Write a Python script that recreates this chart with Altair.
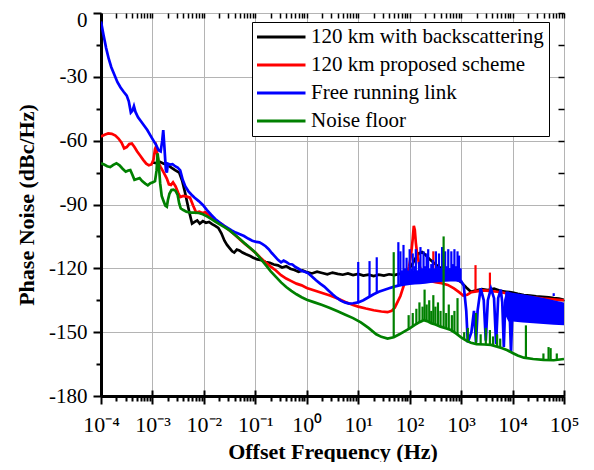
import altair as alt
import pandas as pd

FONT = "Liberation Serif, Times New Roman, serif"
SERIES = ["120 km with backscattering", "120 km proposed scheme", "Free running link", "Noise floor"]
COLORS = ["#000000", "#ff0000", "#0000ff", "#008000"]

# x values are log10(offset frequency / Hz); y values are phase noise in dBc/Hz
black_lx = [-3.00, -2.92, -2.85, -2.78, -2.72, -2.64, -2.56, -2.48, -2.42, -2.37, -2.33, -2.28, -2.23, -2.18, -2.13,
            -2.08, -2.02, -1.96, -1.90, -1.84, -1.78, -1.72, -1.66, -1.60, -1.55, -1.50, -1.45, -1.41, -1.36, -1.31,
            -1.25, -1.18, -1.10, -1.04, -0.96, -0.88, -0.80, -0.72, -0.64, -0.56, -0.48, -0.40, -0.32, -0.24, -0.16,
            -0.08, 0.00, 0.10, 0.20, 0.30, 0.40, 0.50, 0.60, 0.70, 0.80, 0.90, 1.00, 1.10, 1.20, 1.30, 1.40, 1.50,
            1.60, 1.70, 1.80, 1.88, 1.96, 2.04, 2.12, 2.18, 2.24, 2.30, 2.40, 2.55, 2.70, 2.85, 3.00, 3.10, 3.19,
            3.28, 3.40, 3.52, 3.64, 3.76, 3.88, 4.00, 4.10, 4.22, 4.34, 4.46, 4.58, 4.70, 4.80, 4.90, 5.00]
black_db = [-70.2, -70.6, -70.0, -70.8, -71.2, -72.5, -73.8, -75.0, -79.0, -84.0, -88.5, -94.0, -99.0, -98.2, -97.5,
            -99.0, -97.8, -98.6, -98.2, -99.2, -100.0, -101.0, -103.5, -107.0, -109.0, -110.5, -112.0, -112.6, -111.2, -111.6,
            -112.6, -113.4, -114.2, -115.0, -115.8, -116.2, -117.0, -117.4, -118.2, -118.6, -119.6, -119.0, -120.2, -120.8, -121.6,
            -121.0, -121.8, -122.4, -121.6, -122.2, -122.8, -122.0, -122.6, -123.0, -122.4, -123.2, -122.6, -123.4, -123.0, -123.6, -123.0, -123.4,
            -122.8, -123.2, -122.6, -122.0, -121.0, -118.5, -115.0, -113.0, -112.4, -113.5, -116.0, -119.0, -121.5, -124.0, -126.5, -129.0, -131.0,
            -130.4, -129.8, -130.2, -129.6, -130.6, -131.0, -131.4, -132.0, -132.6, -132.8, -133.2, -133.4, -133.6, -134.0, -134.2, -134.8]

red_lx = [-4.00, -3.93, -3.86, -3.79, -3.72, -3.66, -3.60, -3.55, -3.50, -3.45, -3.40, -3.35, -3.30, -3.24, -3.18,
          -3.12, -3.07, -3.02, -2.98, -2.95, -2.93, -2.91, -2.88, -2.84, -2.78, -2.72, -2.68, -2.64, -2.60, -2.55,
          -2.50, -2.46, -2.40, -2.33, -2.27, -2.21, -2.15, -2.09, -2.03, -1.97, -1.91, -1.85, -1.78, -1.72, -1.64,
          -1.56, -1.48, -1.40, -1.30, -1.20, -1.10, -1.00, -0.90, -0.80, -0.70, -0.60, -0.50, -0.40, -0.30, -0.20,
          -0.10, 0.00, 0.15, 0.30, 0.45, 0.60, 0.75, 0.90, 1.00, 1.15, 1.30, 1.45, 1.57, 1.65, 1.71, 1.76, 1.82,
          1.88, 1.94, 1.99, 2.03, 2.06, 2.08, 2.10, 2.12, 2.15, 2.20, 2.28, 2.38, 2.50, 2.62, 2.74, 2.86, 2.96,
          3.04, 3.12, 3.20, 3.30, 3.42, 3.55, 3.70, 3.85, 4.00, 4.30, 4.60, 5.00]
red_db = [-58.0, -57.2, -56.6, -56.8, -57.6, -59.0, -61.0, -63.6, -63.0, -61.6, -61.3, -63.0, -65.0, -67.0, -69.0,
          -70.8, -71.6, -71.2, -69.0, -64.0, -62.8, -66.0, -70.5, -72.4, -75.0, -77.8, -80.5, -80.8, -79.6, -81.5,
          -84.5, -86.5, -86.0, -86.3, -86.8, -90.5, -93.8, -93.4, -94.0, -93.6, -95.0, -96.2, -97.4, -98.2, -99.4,
          -101.0, -102.6, -104.2, -106.4, -108.6, -110.6, -112.6, -115.0, -117.2, -119.2, -121.0, -123.2, -124.8, -126.0, -127.2,
          -128.0, -129.2, -130.4, -131.6, -132.8, -134.2, -135.8, -137.2, -138.0, -138.9, -139.7, -140.3, -140.6, -140.0, -138.5, -136.0, -133.0,
          -128.5, -124.0, -119.0, -113.0, -106.0, -100.0, -102.0, -108.0, -114.0, -119.5, -124.0, -125.8, -126.5, -127.0, -127.8, -129.4, -131.2,
          -132.8, -132.4, -131.2, -130.8, -130.4, -130.6, -131.0, -131.6, -132.4, -133.4, -134.2, -135.0]
red_spike_lx = [2.46, 3.28, 3.56]
red_spike_base = [-126.2, -130.8, -130.6]
red_spike_top = [-112.0, -118.5, -122.0]

blue_lx = [-4.00, -3.95, -3.90, -3.85, -3.80, -3.74, -3.68, -3.62, -3.56, -3.50, -3.46, -3.42, -3.39, -3.36, -3.33,
           -3.28, -3.22, -3.16, -3.10, -3.04, -2.98, -2.93, -2.88, -2.84, -2.81, -2.79, -2.77, -2.74, -2.72, -2.70,
           -2.66, -2.61, -2.56, -2.51, -2.46, -2.41, -2.36, -2.30, -2.24, -2.18, -2.10, -2.02, -1.94, -1.86, -1.78,
           -1.70, -1.62, -1.54, -1.46, -1.38, -1.30, -1.22, -1.14, -1.06, -0.98, -0.92, -0.86, -0.80, -0.74, -0.68,
           -0.62, -0.56, -0.50, -0.45, -0.40, -0.34, -0.28, -0.22, -0.16, -0.10, -0.04, 0.02, 0.10, 0.18, 0.26,
           0.34, 0.42, 0.50, 0.58, 0.66, 0.74, 0.82, 0.90, 1.00, 1.10, 1.20, 1.30, 1.40, 1.50, 1.60, 1.70, 1.80,
           1.90, 2.00, 2.10, 2.20, 2.30, 2.40, 2.50, 2.60, 2.70, 2.80, 2.90, 3.00, 3.05, 3.10, 3.13, 3.20, 3.25,
           3.29, 3.32, 3.38, 3.44, 3.48, 3.52, 3.58, 3.64, 3.68, 3.72, 3.77, 3.80, 3.83, 3.86, 3.90, 3.94, 3.97,
           4.00, 4.50, 5.00]
blue_db = [-4.0, -10.5, -16.5, -21.5, -25.5, -29.0, -32.5, -35.0, -37.0, -38.8, -41.5, -46.8, -46.0, -43.8, -46.5,
           -49.0, -51.0, -53.0, -55.0, -57.5, -60.0, -62.0, -64.5, -65.0, -60.0, -55.0, -62.0, -73.5, -75.0, -70.8,
           -71.2, -71.0, -72.0, -72.6, -74.0, -78.5, -81.5, -83.8, -85.4, -86.8, -88.4, -90.2, -92.6, -94.8, -96.8,
           -98.4, -99.8, -101.0, -102.2, -103.2, -104.0, -104.8, -106.0, -107.0, -107.6, -107.8, -108.6, -109.6, -111.0, -112.8,
           -114.4, -116.0, -117.2, -116.4, -117.0, -118.0, -118.2, -119.4, -120.2, -121.2, -121.6, -122.2, -123.8, -125.6, -127.2,
           -128.6, -130.4, -132.2, -133.8, -135.2, -136.0, -136.6, -136.4, -136.0, -135.0, -133.6, -132.2, -131.0, -130.2, -129.4, -128.6, -128.0,
           -127.6, -127.2, -127.0, -126.8, -126.6, -126.3, -126.0, -125.8, -125.7, -125.6, -125.6, -126.0, -128.0, -140.0, -154.8, -150.0, -140.0,
           -154.8, -140.0, -129.4, -135.0, -154.0, -135.0, -129.5, -134.0, -155.5, -134.0, -130.0, -136.0, -157.0, -135.0, -131.0, -138.0, -159.6,
           -138.0, -139.0, -140.0]
blue_spike_lx = [1.00, 1.22, 1.36, 1.78, 1.82, 1.85, 1.88, 1.91, 1.94, 1.97, 2.00, 2.03, 2.06, 2.09, 2.12, 2.15, 2.18,
                 2.21, 2.24, 2.27, 2.30, 2.33, 2.36, 2.39, 2.42, 2.45, 2.48, 2.51, 2.54, 2.57, 2.60, 2.63, 2.66, 2.69,
                 2.72, 2.75, 2.78, 2.81, 2.84, 2.87, 2.90, 2.93, 2.96, 2.99, 4.80]
blue_spike_base = [-136.0, -133.4, -131.6, -128.1, -128.0, -128.0, -127.8, -127.6, -127.5, -127.4, -127.2, -127.2, -127.1,
                   -127.0, -127.0, -127.0, -126.9, -126.8, -126.8, -126.7, -126.6, -126.5, -126.5, -126.4, -126.3, -126.2,
                   -126.1, -126.0, -126.0, -125.9, -125.8, -125.8, -125.7, -125.7, -125.7, -125.6, -125.6, -125.6, -125.6,
                   -125.6, -125.6, -125.7, -125.8, -126.0, -133.0]
blue_spike_top = [-117.0, -116.6, -114.8, -107.7, -112.0, -121.0, -109.0, -120.0, -115.0, -121.0, -111.0, -120.0, -113.0,
                  -119.0, -111.0, -121.0, -117.0, -110.0, -120.0, -112.0, -119.0, -113.0, -111.0, -120.0, -118.0, -116.0,
                  -120.0, -112.0, -119.0, -113.0, -120.0, -110.0, -117.0, -112.0, -119.0, -111.0, -120.0, -112.0, -118.0,
                  -111.0, -119.0, -112.0, -114.0, -120.0, -131.7]
# dense comb between about 70 Hz and 1 kHz, seen as a filled blue strip
blue_comb_lx = [1.86, 2.00, 2.20, 2.40, 2.60, 2.80, 2.98]
blue_comb_top = [-122.0, -121.5, -121.0, -120.5, -120.0, -120.0, -121.0]
blue_comb_bot = [-127.9, -127.2, -126.8, -126.3, -125.8, -125.6, -126.0]
blue_band_lx = [3.86, 3.92, 4.00, 4.20, 4.40, 4.60, 4.80, 5.00]
blue_band_top = [-131.0, -131.0, -131.5, -132.2, -133.0, -134.0, -135.0, -136.0]
blue_band_bot = [-142.0, -145.0, -145.0, -145.4, -145.8, -146.2, -146.5, -146.8]

green_lx = [-4.00, -3.94, -3.88, -3.82, -3.76, -3.70, -3.64, -3.58, -3.52, -3.47, -3.43, -3.39, -3.35, -3.30, -3.25,
            -3.20, -3.14, -3.09, -3.04, -2.99, -2.95, -2.92, -2.90, -2.88, -2.85, -2.82, -2.79, -2.75, -2.72, -2.70,
            -2.67, -2.63, -2.59, -2.55, -2.51, -2.48, -2.45, -2.40, -2.34, -2.26, -2.18, -2.10, -2.02, -1.94, -1.86,
            -1.78, -1.70, -1.60, -1.50, -1.40, -1.30, -1.20, -1.10, -1.00, -0.90, -0.80, -0.70, -0.60, -0.50, -0.40,
            -0.30, -0.20, -0.10, 0.00, 0.15, 0.30, 0.45, 0.60, 0.75, 0.90, 1.05, 1.20, 1.35, 1.45, 1.57, 1.69, 1.80,
            1.90, 2.00, 2.10, 2.20, 2.27, 2.34, 2.42, 2.50, 2.60, 2.70, 2.80, 2.90, 3.00, 3.10, 3.19, 3.30, 3.45,
            3.58, 3.70, 3.80, 3.90, 4.00, 4.10, 4.22, 4.40, 4.60, 4.80, 5.00]
green_db = [-70.6, -71.2, -72.0, -72.4, -71.4, -70.6, -71.6, -73.2, -74.6, -74.0, -73.8, -76.0, -78.4, -78.0, -77.6,
            -79.0, -80.2, -81.0, -80.0, -79.6, -79.0, -74.0, -66.0, -70.0, -80.0, -86.0, -88.0, -90.5, -91.0, -88.0,
            -85.0, -83.2, -83.0, -83.6, -85.5, -89.5, -91.8, -92.6, -93.4, -93.8, -93.8, -94.0, -94.6, -95.6, -96.8,
            -98.0, -99.2, -100.6, -102.2, -104.2, -106.2, -108.4, -110.4, -112.6, -115.4, -118.4, -121.4, -124.0, -126.6, -128.8,
            -130.6, -132.2, -133.6, -134.8, -136.0, -137.2, -138.6, -140.2, -141.8, -143.4, -145.4, -148.0, -151.0, -152.2, -153.0, -152.4, -151.0,
            -149.6, -148.2, -146.6, -145.2, -144.4, -144.8, -145.8, -146.4, -147.4, -148.2, -149.0, -150.6, -152.4, -154.0, -155.0, -155.6, -155.8,
            -156.0, -156.8, -157.6, -158.5, -159.8, -161.0, -162.0, -162.6, -163.0, -163.2, -162.6]
green_spike_lx = [1.69, 1.98, 2.06, 2.13, 2.19, 2.25, 2.29, 2.33, 2.38, 2.42, 2.46, 2.50, 2.55, 2.60, 2.66, 2.71, 2.76,
                  2.82, 2.87, 2.93, 3.06, 3.13, 3.29, 3.38, 3.48, 3.56, 3.62, 3.70, 3.76, 4.26, 4.60, 4.70, 4.74, 4.86]
green_spike_base = [-152.4, -148.5, -147.2, -146.2, -145.4, -144.6, -144.4, -144.7, -145.3, -145.8, -146.1, -146.4, -146.9,
                    -147.4, -147.8, -148.3, -148.7, -149.3, -150.1, -151.1, -153.4, -154.3, -155.6, -155.7, -155.8, -156.0,
                    -156.3, -156.8, -157.3, -162.1, -163.0, -163.1, -163.1, -163.2]
green_spike_top = [-112.4, -142.0, -141.0, -139.0, -136.0, -138.0, -130.0, -137.0, -135.0, -140.0, -132.6, -138.0, -136.0,
                   -140.0, -105.0, -141.0, -137.0, -142.0, -140.0, -134.0, -150.0, -148.0, -141.0, -151.0, -148.0, -149.0,
                   -152.0, -151.0, -153.0, -146.8, -160.0, -157.0, -157.5, -160.0]

X_DECADES = [1e-4, 1e-3, 1e-2, 1e-1, 1e0, 1e1, 1e2, 1e3, 1e4, 1e5]
X_MINOR_MULT = [2, 3, 4, 5, 6, 7, 8, 9]
Y_TICKS = [-180, -165, -150, -135, -120, -105, -90, -75, -60, -45, -30, -15, 0]
EXP_LABELS = ["10⁻⁴", "10⁻³", "10⁻²", "10⁻¹", "10⁰", "10¹", "10²", "10³", "10⁴", "10⁵"]

x_values = sorted(X_DECADES + [d * m for d in X_DECADES[:-1] for m in X_MINOR_MULT])

XS = alt.Scale(type="log", domain=[1e-4, 1e5], nice=False)
YS = alt.Scale(domain=[-180, 0], nice=False)
CS = alt.Scale(domain=SERIES, range=COLORS)

DEC = "abs(log(datum.value)/LN10 - round(log(datum.value)/LN10)) < 0.01"
lab_arr = "[" + ",".join("'" + s + "'" for s in EXP_LABELS) + "]"
x_label_expr = f"{DEC} ? {lab_arr}[round(log(datum.value)/LN10)+4] : ''"
YMAJ = "datum.value % 30 == 0"

x_axis = alt.Axis(orient="bottom", values=x_values, labelExpr=x_label_expr, labelFont=FONT, labelFontSize=22,
                  labelColor="black", labelPadding=10, labelOverlap=False, labelFlush=False,
                  tickSize={"condition": {"test": DEC, "value": 8}, "value": 5}, tickWidth=2, tickColor="black",
                  domainColor="black", domainWidth=3, grid=True, gridColor="#b4b4b4", gridWidth=1,
                  gridOpacity={"condition": {"test": DEC, "value": 1}, "value": 0},
                  title="Offset Frequency (Hz)", titleFont=FONT, titleFontSize=22, titleFontWeight="bold",
                  titleColor="black", titlePadding=6)
y_axis = alt.Axis(orient="left", values=Y_TICKS, labelExpr=f"{YMAJ} ? '' + datum.value : ''", labelFont=FONT,
                  labelFontSize=21, labelColor="black", labelPadding=6, labelOverlap=False, labelFlush=False,
                  labelOffset={"condition": {"test": "datum.value == 0", "value": 7}, "value": 0},
                  tickSize={"condition": {"test": YMAJ, "value": 8}, "value": 5}, tickWidth=2, tickColor="black",
                  domainColor="black", domainWidth=3, grid=True, gridColor="#b4b4b4", gridWidth=1,
                  gridOpacity={"condition": {"test": YMAJ, "value": 1}, "value": 0},
                  title="Phase Noise (dBc/Hz)", titleFont=FONT, titleFontSize=22, titleFontWeight="bold",
                  titleColor="black", titlePadding=10)
x_top = alt.Axis(orient="top", values=x_values, labels=False, domain=False, grid=False, tickSize=5, offset=-5,
                 tickWidth=1.5, tickColor="black", title="")
y_right = alt.Axis(orient="right", values=Y_TICKS, labels=False, domain=False, grid=False, tickSize=6, offset=-6,
                   tickWidth=1.5, tickColor="black", title="")
x_inner = alt.Axis(orient="bottom", values=X_DECADES, labels=False, domain=False, grid=False, tickSize=6, offset=-6,
                   tickWidth=2, tickColor="black", title="")

legend = alt.Legend(orient="none", legendX=151, legendY=9, title=None, symbolType="stroke", symbolSize=2500,
                    symbolStrokeWidth=3, labelFont=FONT, labelFontSize=21, labelColor="black", labelLimit=400,
                    clipHeight=20, rowPadding=7, padding=5, strokeColor="black", fillColor="white", labelOffset=4,
                    symbolOffset=-3)


def line_df(lx, db, name):
    return pd.DataFrame({"f": [10 ** v for v in lx], "db": db, "series": name, "i": list(range(len(lx)))})


def spike_df(lx, base, top):
    return pd.DataFrame({"f": [10 ** v for v in lx], "base": base, "top": top})


def line_layer(df, xa=None, ya=None):
    return alt.Chart(df).mark_line(strokeWidth=2.7, clip=True).encode(
        x=alt.X("f:Q", scale=XS, axis=xa),
        y=alt.Y("db:Q", scale=YS, axis=ya),
        color=alt.Color("series:N", scale=CS, legend=legend),
        order=alt.Order("i:Q"),
    )


def spike_layer(df, color):
    return alt.Chart(df).mark_rule(strokeWidth=2.2, color=color).encode(
        x=alt.X("f:Q", scale=XS, axis=None),
        y=alt.Y("base:Q", scale=YS, axis=None),
        y2="top:Q",
    )


def band_layer(lx, top, bot, color):
    df = pd.DataFrame({"f": [10 ** v for v in lx], "top": top, "bot": bot})
    return alt.Chart(df).mark_area(color=color).encode(
        x=alt.X("f:Q", scale=XS, axis=None),
        y=alt.Y("top:Q", scale=YS, axis=None),
        y2="bot:Q",
    )


layers = [
    line_layer(line_df(black_lx, black_db, SERIES[0]), x_axis, y_axis),
    line_layer(line_df(red_lx, red_db, SERIES[1]), x_top, y_right),
    spike_layer(spike_df(red_spike_lx, red_spike_base, red_spike_top), COLORS[1]),
    band_layer(blue_band_lx, blue_band_top, blue_band_bot, COLORS[2]),
    band_layer(blue_comb_lx, blue_comb_top, blue_comb_bot, COLORS[2]),
    line_layer(line_df(blue_lx, blue_db, SERIES[2]), x_inner),
    spike_layer(spike_df(blue_spike_lx, blue_spike_base, blue_spike_top), COLORS[2]),
    line_layer(line_df(green_lx, green_db, SERIES[3])),
    spike_layer(spike_df(green_spike_lx, green_spike_base, green_spike_top), COLORS[3]),
]

chart = alt.layer(*layers).resolve_axis(x="independent", y="independent").properties(
    width=463, height=383,
    padding={"left": 93, "top": 5, "right": 22, "bottom": 66},
    autosize=alt.AutoSizeParams(type="none"),
).configure_view(stroke="black", strokeWidth=2.5).configure(background="white")

chart.save("out.html", embed_options={"renderer": "svg", "actions": False})
